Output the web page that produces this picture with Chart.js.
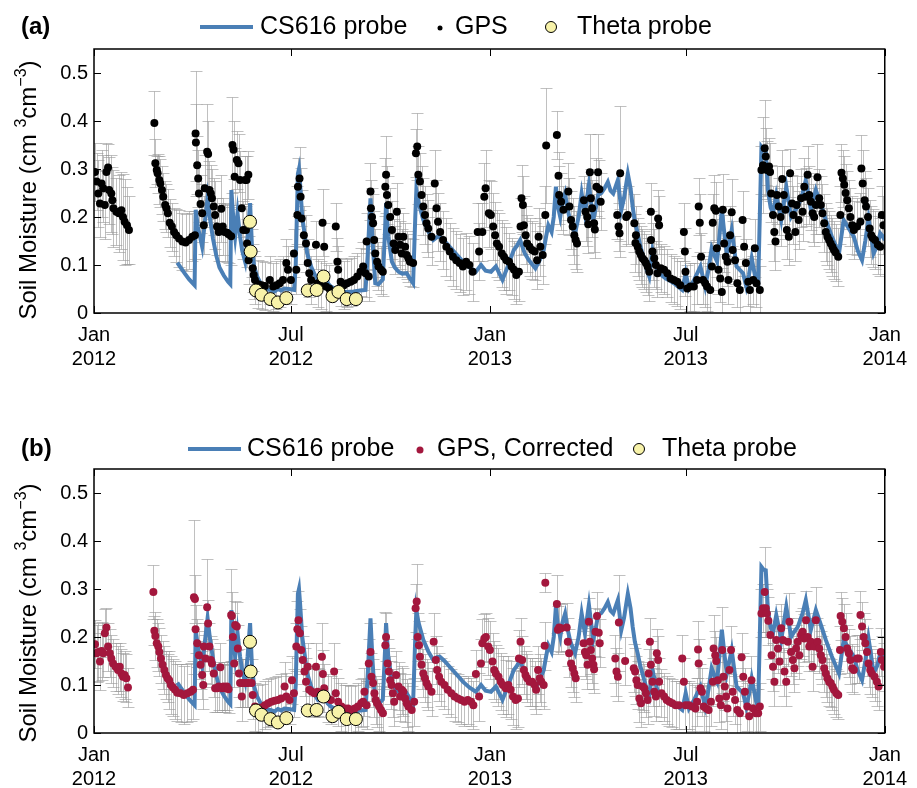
<!DOCTYPE html>
<html>
<head>
<meta charset="utf-8">
<script src="https://cdn.jsdelivr.net/npm/chart.js@4.4.1/dist/chart.umd.min.js"></script>
<style>
  html, body { margin: 0; padding: 0; background: #fff; }
  #wrap { position: relative; width: 917px; height: 788px; }
  .box { position: absolute; left: 0; width: 917px; height: 394px; }
</style>
</head>
<body>
<div id="wrap">
  <div class="box" style="top:0"><canvas id="chartA" width="917" height="394"></canvas></div>
  <div class="box" style="top:394px"><canvas id="chartB" width="917" height="394"></canvas></div>
</div>
<script>
// x axis is days since 1 Jan 2012
const xTickDays = [0, 182, 366, 547, 731];
const xTickLabels = [['Jan', '2012'], ['Jul', '2012'], ['Jan', '2013'], ['Jul', '2013'], ['Jan', '2014']];
const yTickVals = [0, 0.1, 0.2, 0.3, 0.4, 0.5];

// CS616 probe (same in both panels)
const csDays = [77,80,84,88,93,94,96,100,103,105,107,110,113,116,120,124,126,127,129,130.5,132.7,135,137,139.7,142,144.3,146,148,151,155,159,163,167,170,173,176,180,185,186.5,187.5,188.5,189.5,190.5,192.5,194.6,197,200.7,204,207,210,213,216,219,223,228,234,240,246,251,253,255.6,257.5,260,263,267,269,270,272,275.4,278,281.5,285,289,292,295,297,298,300,304.4,309,313.6,317,319.6,324,328.8,334,341,347,353,357.8,362,367,371.5,377.6,383,388,391,394,398,402,408,412,415.7,418,420,423,425,427,429,431,433,435.5,437.5,440,442,444.7,448,450.8,453.8,457.5,459.5,461.5,464,466,469,472,475,477.5,480,484.3,487.5,490,493.5,496,498,500,502.6,505,508.7,511,513.3,516.3,518.5,520.9,524,528.6,532,536,540,543.8,547,550,555,560.6,565,568,571,573.5,576,580.4,583,585,589.5,592,594,597,600,603,605.5,608,610,612.4,614,616,617,619,621,623,625.5,627.7,630.7,633,635.3,640,644.4,647,650.6,655,658,662.7,667.3,672,676.5,682,688.7,693,698,702.4,706,710,713,716,718.5,720.7,724,726.8,729,731];
const csVals = [0.105,0.095,0.082,0.07,0.058,0.215,0.18,0.138,0.2,0.239,0.2,0.155,0.12,0.095,0.078,0.065,0.06,0.256,0.19,0.159,0.208,0.16,0.13,0.107,0.16,0.229,0.14,0.097,0.075,0.058,0.05,0.048,0.045,0.05,0.047,0.051,0.05,0.048,0.1,0.2,0.29,0.3,0.27,0.2,0.166,0.125,0.097,0.08,0.069,0.072,0.076,0.062,0.055,0.05,0.045,0.044,0.045,0.047,0.048,0.12,0.239,0.15,0.062,0.06,0.07,0.17,0.229,0.16,0.107,0.095,0.086,0.082,0.083,0.072,0.062,0.2,0.256,0.23,0.194,0.17,0.152,0.158,0.159,0.15,0.138,0.125,0.107,0.095,0.086,0.1,0.088,0.086,0.097,0.069,0.1,0.131,0.14,0.152,0.125,0.11,0.093,0.11,0.131,0.16,0.183,0.169,0.2,0.263,0.22,0.2,0.23,0.249,0.22,0.194,0.18,0.166,0.2,0.249,0.208,0.267,0.23,0.194,0.22,0.246,0.25,0.26,0.273,0.255,0.249,0.277,0.215,0.24,0.29,0.26,0.221,0.19,0.166,0.14,0.11,0.09,0.076,0.131,0.11,0.089,0.08,0.072,0.068,0.062,0.055,0.048,0.083,0.051,0.07,0.097,0.055,0.09,0.135,0.12,0.107,0.215,0.16,0.124,0.173,0.13,0.097,0.09,0.083,0.055,0.08,0.114,0.09,0.062,0.06,0.25,0.346,0.34,0.339,0.256,0.22,0.208,0.246,0.22,0.194,0.263,0.2,0.21,0.221,0.249,0.277,0.215,0.256,0.225,0.194,0.16,0.124,0.194,0.175,0.159,0.13,0.11,0.15,0.197,0.16,0.124,0.14,0.166,0.16,0.152];

// Theta probe
const thetaDays = [144.2,144.8,149.7,154.9,163.1,170,177.8,197.6,205.8,212.2,220.5,226,233.6,242.1];
const thetaVals = [0.19,0.128,0.047,0.038,0.029,0.022,0.031,0.047,0.048,0.076,0.035,0.044,0.029,0.029];

// GPS, panel (a): [day, value, error]
const gpsRaw = [[0.9,0.294,0.06],[2.4,0.274,0.06],[4,0.249,0.07],[5.5,0.228,0.07],[7,0.27,0.07],[8.5,0.26,0.07],[10,0.225,0.07],[11.5,0.294,0.06],[13,0.303,0.05],[14,0.256,0.07],[16,0.249,0.08],[17,0.235,0.07],[18,0.218,0.08],[20.7,0.211,0.07],[23,0.208,0.08],[25.3,0.214,0.08],[26.8,0.2,0.09],[28.3,0.19,0.09],[30.5,0.183,0.08],[32.3,0.173,0.07],
[55.8,0.396,0.067],[56.7,0.312,0.05],[58,0.298,0.03],[58.8,0.291,0.04],[60.4,0.277,0.05],[61.3,0.27,0.05],[62.8,0.256,0.05],[64,0.242,0.05],[65.8,0.225,0.05],[67,0.218,0.05],[68.3,0.208,0.05],[70,0.188,0.05],[72,0.18,0.05],[74,0.169,0.05],[76,0.162,0.055],[78.6,0.155,0.06],[81.7,0.149,0.06],[84.7,0.147,0.06],[87.8,0.152,0.06],[90.9,0.159,0.05],[93.3,0.162,0.05],[93.9,0.374,0.13],[94.2,0.355,0.08],[95.4,0.308,0.06],[96.3,0.28,0.06],[97,0.249,0.06],[98.5,0.227,0.06],[100,0.208,0.06],[101.5,0.183,0.06],[102.4,0.26,0.07],[104.6,0.336,0.1],[105.5,0.331,0.07],[106.7,0.256,0.06],[108,0.249,0.06],[109,0.239,0.06],[110.7,0.222,0.06],[112,0.204,0.07],[113.7,0.18,0.06],[115.3,0.169,0.06],[117.7,0.217,0.07],[119,0.18,0.06],[120.7,0.169,0.06],[122.9,0.167,0.06],[124.4,0.164,0.06],[126.8,0.16,0.06],[128,0.35,0.1],[129,0.34,0.06],[130,0.284,0.06],[132,0.319,0.06],[133.6,0.312,0.06],[135,0.277,0.06],[136.6,0.218,0.06],[138,0.173,0.06],[139.7,0.277,0.05],[141,0.277,0.05],[142.7,0.288,0.05],[140.5,0.173,0.05],[141.5,0.145,0.05],[142.9,0.11,0.05],[145.7,0.124,0.05],[146.7,0.093,0.05],[147.6,0.079,0.05],[148.8,0.069,0.05],[151.9,0.06,0.05],[155,0.058,0.05],[158,0.056,0.05],[162.5,0.069,0.05],[165.6,0.055,0.05],[168.6,0.058,0.05],[171.7,0.062,0.05],[174.7,0.069,0.05],[177.8,0.104,0.05],[179.3,0.09,0.05],[182,0.069,0.05],[184.8,0.124,0.05],[187,0.09,0.05],[188,0.204,0.06],[188.5,0.263,0.06],[190,0.28,0.065],[191,0.242,0.06],[192,0.197,0.06],[194,0.162,0.06],[196,0.145,0.06],[197.6,0.104,0.05],[199,0.083,0.05],[200.7,0.069,0.05],[205.2,0.142,0.05],[206.7,0.062,0.05],[209.8,0.058,0.05],[211.3,0.188,0.07],[212.8,0.138,0.05],[214.4,0.055,0.05],[217.4,0.051,0.05],[223.5,0.18,0.05],[225,0.107,0.05],[225.7,0.09,0.05],[228,0.065,0.05],[231,0.058,0.05],[234,0.062,0.05],[237.3,0.065,0.05],[240.3,0.069,0.05],[243.4,0.076,0.05],[246.4,0.086,0.05],[248.8,0.097,0.05],[251,0.083,0.05],[252,0.149,0.06],[254,0.076,0.05],[255.6,0.253,0.06],[256,0.218,0.06],[257,0.2,0.06],[258,0.187,0.06],[259,0.152,0.06],[260,0.124,0.05],[261.7,0.107,0.05],[263,0.097,0.05],[265.3,0.09,0.05],[267,0.086,0.05],[269.3,0.263,0.06],[270,0.288,0.08],[270.8,0.246,0.06],[272,0.225,0.06],[273.8,0.2,0.06],[275.4,0.173,0.06],[277,0.145,0.05],[278.5,0.131,0.05],[280,0.211,0.06],[281.5,0.159,0.06],[283,0.142,0.05],[284.5,0.124,0.05],[286,0.159,0.05],[287.6,0.138,0.05],[289,0.121,0.05],[290.6,0.114,0.05],[292,0.107,0.05],[295,0.104,0.05],[297.6,0.333,0.05],[298.8,0.347,0.07],[299.8,0.288,0.06],[301.3,0.274,0.06],[302.8,0.246,0.06],[304.4,0.222,0.06],[306,0.204,0.06],[307.4,0.187,0.06],[309,0.176,0.06],[312,0.159,0.06],[315,0.27,0.07],[316.6,0.218,0.06],[318,0.19,0.06],[320,0.169,0.06],[322.7,0.152,0.06],[325.7,0.138,0.06],[328.8,0.128,0.06],[331.8,0.117,0.06],[334.9,0.11,0.06],[338,0.104,0.06],[341,0.097,0.06],[344,0.107,0.06],[347,0.1,0.06],[350,0.086,0.06],[354.7,0.169,0.06],[356,0.128,0.06],[359,0.169,0.06],[360.8,0.242,0.07],[362,0.26,0.08],[365,0.208,0.07],
[366.9,0.204,0.07],[369,0.18,0.07],[370.8,0.162,0.07],[372.4,0.145,0.07],[374.5,0.138,0.07],[377,0.124,0.07],[379,0.117,0.07],[381.2,0.11,0.07],[383.7,0.107,0.06],[386,0.097,0.06],[388.2,0.09,0.06],[390.4,0.079,0.06],[392.8,0.086,0.06],[394.3,0.18,0.06],[395.2,0.239,0.07],[396.5,0.225,0.06],[397.4,0.183,0.06],[399,0.162,0.06],[400.4,0.145,0.06],[402.6,0.138,0.06],[405,0.131,0.06],[407.4,0.128,0.06],[409.6,0.11,0.06],[411,0.159,0.06],[412.6,0.138,0.06],[414.8,0.121,0.06],[417.2,0.204,0.06],[418,0.349,0.12],[427.9,0.371,0.05],[429.4,0.286,0.05],[430,0.246,0.06],[431.8,0.232,0.06],[434,0.215,0.05],[438.5,0.253,0.06],[439.5,0.222,0.06],[441,0.194,0.06],[442.5,0.18,0.06],[444,0.162,0.06],[445.3,0.152,0.06],[446.5,0.145,0.06],[452.9,0.235,0.05],[454.4,0.211,0.06],[456,0.2,0.06],[456.9,0.185,0.06],[458.4,0.293,0.08],[459.3,0.239,0.06],[460.5,0.218,0.06],[462.3,0.187,0.06],[463,0.174,0.06],[464.5,0.263,0.06],[466,0.293,0.08],[467.2,0.258,0.06],[468.4,0.232,0.06],[483.7,0.204,0.05],[484.9,0.18,0.05],[485.8,0.166,0.05],[486.4,0.291,0.14],[492,0.2,0.06],[493.4,0.204,0.06],[499.5,0.187,0.06],[500.5,0.146,0.06],[501,0.162,0.06],[502.6,0.138,0.06],[504,0.128,0.06],[505.6,0.121,0.06],[507,0.114,0.06],[508.7,0.11,0.06],[510.2,0.104,0.06],[511.8,0.097,0.06],[513.3,0.086,0.06],[514.8,0.211,0.06],[514.9,0.152,0.06],[516.3,0.128,0.06],[517.9,0.114,0.06],[519.4,0.1,0.05],[520.9,0.083,0.05],[521.5,0.197,0.06],[522.4,0.183,0.06],[524,0.093,0.05],[527,0.09,0.05],[530,0.083,0.05],[533,0.072,0.05],[536,0.069,0.05],[539.2,0.065,0.05],[542,0.058,0.05],[545.3,0.169,0.06],[546.2,0.128,0.05],[546.8,0.086,0.05],[548.4,0.051,0.05],[551.4,0.055,0.05],[554.5,0.055,0.05],[557.5,0.069,0.05],[559,0.222,0.06],[560,0.188,0.06],[561.2,0.117,0.05],[563,0.069,0.05],[565,0.062,0.05],[566.7,0.055,0.05],[569.7,0.048,0.05],[571.2,0.097,0.05],[572,0.188,0.06],[573.4,0.218,0.07],[574.9,0.213,0.06],[575.8,0.135,0.06],[577.3,0.09,0.05],[578.9,0.072,0.05],[580.4,0.044,0.05],[581.3,0.215,0.075],[582.5,0.145,0.06],[584,0.117,0.05],[585.6,0.107,0.05],[586.5,0.069,0.05],[588,0.162,0.06],[589.5,0.21,0.07],[590.4,0.131,0.06],[592.6,0.11,0.05],[594.7,0.062,0.05],[597,0.048,0.05],[599.6,0.194,0.06],[601,0.138,0.06],[602.6,0.104,0.05],[604.8,0.065,0.05],[606.3,0.048,0.05],[609.4,0.069,0.05],[610.9,0.135,0.06],[612.4,0.062,0.05],[615.5,0.048,0.05],[617,0.298,0.05],[618.5,0.308,0.1],[620,0.343,0.1],[621,0.326,0.06],[622,0.298,0.06],[624,0.305,0.06],[625,0.294,0.06],[626,0.249,0.06],[627.7,0.204,0.06],[628.9,0.169,0.06],[630,0.149,0.06],[631.3,0.246,0.06],[633,0.222,0.06],[634.7,0.2,0.06],[636.2,0.279,0.06],[637.7,0.246,0.06],[639.2,0.215,0.06],[640.5,0.173,0.06],[642.3,0.159,0.06],[643.5,0.291,0.05],[645.3,0.228,0.06],[646.6,0.204,0.06],[648.4,0.169,0.06],[649.6,0.225,0.06],[651.4,0.194,0.06],[653.6,0.239,0.06],[655,0.211,0.06],[656.6,0.263,0.06],[658,0.242,0.06],[659.7,0.288,0.06],[661.2,0.246,0.06],[662.7,0.232,0.06],[664.3,0.208,0.06],[665.8,0.2,0.06],[667.3,0.225,0.06],[668.8,0.283,0.07],[670.4,0.239,0.06],[671.9,0.225,0.06],[673.4,0.208,0.06],[675,0.187,0.06],[676.5,0.169,0.06],[678,0.159,0.06],[679.5,0.152,0.06],[681,0.145,0.06],[682.6,0.138,0.06],[684,0.131,0.06],[685.6,0.126,0.06],[688,0.117,0.06],[690,0.204,0.06],[691,0.292,0.06],[692.3,0.28,0.06],[693.5,0.267,0.06],[694.8,0.25,0.06],[696.3,0.235,0.06],[697.8,0.218,0.06],[699.3,0.2,0.06],[700.9,0.183,0.06],[702.4,0.173,0.06],[705.4,0.18,0.06],[708.5,0.19,0.06],[709.4,0.301,0.07],[710.6,0.27,0.07],[712.4,0.235,0.06],[713.7,0.222,0.06],[715.5,0.2,0.06],[717,0.176,0.06],[718.5,0.162,0.06],[719.8,0.156,0.06],[722,0.152,0.06],[724.6,0.142,0.06],[726.8,0.138,0.06],[728.3,0.204,0.06],[729.8,0.183,0.06]];

// GPS corrected, panel (b): [day, value, error]
const gpsCorr = [[0.9,0.185,0.05],[2.4,0.166,0.06],[4,0.169,0.06],[5.5,0.149,0.06],[7,0.171,0.06],[8.5,0.166,0.05],[10,0.208,0.05],[11.5,0.22,0.04],[13,0.18,0.05],[14.6,0.166,0.05],[16,0.155,0.05],[17.6,0.145,0.05],[20,0.138,0.05],[22.2,0.131,0.05],[23.8,0.138,0.05],[25.3,0.124,0.05],[26.8,0.117,0.05],[28.3,0.121,0.05],[29.9,0.114,0.05],[31.4,0.095,0.04],
[54.9,0.294,0.056],[55.8,0.213,0.03],[56.7,0.202,0.05],[58,0.187,0.05],[59.4,0.18,0.05],[60.4,0.169,0.05],[61.9,0.155,0.05],[63.4,0.142,0.05],[65,0.131,0.05],[66.5,0.121,0.05],[68,0.114,0.05],[69.5,0.11,0.06],[71,0.1,0.06],[73,0.095,0.06],[75,0.09,0.06],[77,0.084,0.06],[80,0.083,0.06],[83,0.079,0.06],[86.3,0.083,0.06],[89.3,0.086,0.06],[91.5,0.09,0.06],[92.4,0.283,0.16],[93.3,0.279,0.05],[93.9,0.216,0.05],[95.4,0.187,0.05],[97,0.162,0.05],[98.5,0.142,0.05],[100,0.121,0.05],[101,0.1,0.05],[101.5,0.18,0.05],[103,0.155,0.05],[104.6,0.262,0.1],[105.5,0.228,0.05],[106.7,0.18,0.05],[108,0.152,0.05],[109,0.145,0.05],[110.7,0.124,0.05],[112,0.093,0.05],[113.7,0.093,0.05],[115.3,0.097,0.05],[116.8,0.137,0.05],[118.3,0.093,0.05],[119.8,0.097,0.05],[121.3,0.093,0.05],[122.9,0.097,0.05],[124.4,0.091,0.05],[126.8,0.246,0.095],[127.4,0.244,0.05],[128.4,0.2,0.05],[129.6,0.145,0.05],[130.5,0.225,0.05],[132,0.222,0.05],[133,0.176,0.05],[134,0.124,0.05],[135,0.104,0.05],[136.6,0.076,0.05],[137.2,0.104,0.05],[138,0.104,0.05],[139.7,0.104,0.05],[141.2,0.104,0.05],[142.7,0.104,0.05],[145.7,0.104,0.05],[146.7,0.079,0.05],[148.8,0.055,0.05],[151.9,0.051,0.05],[155,0.053,0.05],[158,0.058,0.05],[161,0.062,0.05],[164,0.065,0.05],[167,0.067,0.05],[170,0.069,0.05],[173,0.072,0.05],[176.2,0.097,0.05],[177.8,0.076,0.05],[180.8,0.069,0.05],[183,0.11,0.05],[184.8,0.083,0.05],[187,0.18,0.05],[188,0.216,0.06],[189,0.235,0.06],[190.3,0.208,0.05],[191.5,0.173,0.05],[193,0.152,0.05],[194.6,0.128,0.05],[196,0.107,0.05],[197.6,0.138,0.05],[199,0.09,0.05],[201.3,0.086,0.05],[203.7,0.083,0.05],[205.2,0.138,0.05],[206.7,0.086,0.05],[208.3,0.083,0.05],[210.7,0.159,0.07],[211.6,0.123,0.05],[212.8,0.093,0.05],[215.9,0.072,0.05],[219,0.069,0.05],[222,0.128,0.06],[223.5,0.083,0.05],[225.7,0.065,0.05],[228.7,0.055,0.05],[231.8,0.051,0.05],[234.8,0.051,0.05],[237.9,0.048,0.05],[241,0.051,0.05],[244,0.055,0.05],[247,0.062,0.05],[248.8,0.065,0.05],[250,0.086,0.05],[252,0.058,0.05],[254,0.145,0.05],[255.6,0.169,0.06],[256.5,0.117,0.05],[258,0.104,0.05],[259.2,0.083,0.05],[260.4,0.069,0.05],[261.7,0.062,0.05],[263.5,0.055,0.05],[265.3,0.048,0.05],[267.1,0.041,0.05],[269.3,0.183,0.07],[270,0.2,0.05],[271.4,0.145,0.05],[272.6,0.128,0.05],[273.8,0.11,0.05],[275,0.1,0.05],[276.3,0.083,0.05],[277.5,0.065,0.05],[279.3,0.121,0.05],[281.5,0.097,0.05],[283,0.076,0.05],[284.5,0.09,0.05],[286,0.086,0.05],[287.6,0.072,0.05],[289,0.062,0.05],[290.6,0.055,0.05],[293.7,0.048,0.05],[296,0.065,0.05],[297.3,0.26,0.05],[298.3,0.274,0.078],[299.2,0.2,0.05],[300.4,0.183,0.05],[301.3,0.159,0.05],[302.8,0.142,0.05],[304.4,0.124,0.05],[305.9,0.114,0.05],[307.4,0.104,0.05],[309,0.097,0.05],[312,0.086,0.05],[314,0.19,0.06],[316,0.152,0.05],[317.2,0.131,0.05],[319,0.117,0.05],[321,0.107,0.05],[324,0.1,0.05],[327,0.09,0.05],[330.3,0.083,0.05],[333.3,0.076,0.05],[336.4,0.072,0.05],[339.4,0.069,0.05],[342.5,0.065,0.05],[345.5,0.069,0.05],[348.6,0.065,0.05],[350.7,0.058,0.05],[353,0.123,0.05],[356,0.076,0.05],[357.7,0.145,0.05],[359,0.187,0.05],[360.8,0.197,0.05],[362.3,0.2,0.05],[364.4,0.18,0.06],
[366,0.173,0.06],[368.4,0.149,0.06],[370,0.131,0.06],[371.5,0.124,0.06],[373.9,0.117,0.06],[376,0.107,0.06],[378,0.1,0.06],[380.6,0.093,0.06],[383,0.1,0.06],[385.2,0.09,0.06],[387.3,0.076,0.06],[389.8,0.069,0.06],[391.9,0.072,0.06],[392.8,0.155,0.06],[394.3,0.19,0.05],[395.8,0.152,0.05],[397.4,0.131,0.05],[398.9,0.121,0.05],[400.4,0.114,0.05],[402.6,0.107,0.05],[405,0.107,0.05],[407.4,0.1,0.05],[408.7,0.09,0.05],[410.5,0.131,0.05],[412,0.114,0.05],[413.5,0.107,0.05],[415.7,0.1,0.05],[416.6,0.182,0.05],[417.2,0.313,0.02],[427.9,0.269,0.06],[428.8,0.215,0.05],[430,0.22,0.05],[431.8,0.218,0.05],[437,0.22,0.05],[438,0.19,0.05],[439.2,0.166,0.05],[441,0.145,0.05],[442.5,0.135,0.05],[444,0.124,0.05],[445.3,0.114,0.05],[452.6,0.187,0.05],[453.8,0.169,0.05],[455,0.162,0.05],[456.2,0.142,0.05],[457.5,0.232,0.05],[458.4,0.19,0.05],[459.3,0.173,0.05],[460.5,0.155,0.05],[461.7,0.142,0.05],[462.3,0.133,0.05],[463.6,0.211,0.05],[465,0.244,0.05],[466.6,0.209,0.05],[467.5,0.187,0.05],[481.9,0.155,0.05],[483,0.128,0.05],[484.3,0.117,0.05],[485.2,0.23,0.1],[491,0.15,0.05],[499,0.135,0.05],[500.2,0.128,0.05],[501.4,0.11,0.05],[502.6,0.1,0.05],[504.1,0.072,0.05],[505.6,0.062,0.05],[507.2,0.097,0.05],[508.7,0.093,0.05],[510.2,0.083,0.05],[511.8,0.069,0.05],[512.7,0.124,0.05],[513.9,0.19,0.05],[514.8,0.142,0.05],[516.3,0.107,0.05],[517.9,0.086,0.05],[519.4,0.076,0.05],[520.3,0.166,0.05],[521.5,0.152,0.05],[522.4,0.107,0.05],[524.6,0.083,0.05],[527,0.076,0.05],[529.4,0.069,0.05],[531.9,0.065,0.05],[534.6,0.062,0.05],[537.7,0.058,0.05],[540.7,0.058,0.05],[543.8,0.155,0.05],[545.3,0.107,0.05],[546.8,0.058,0.05],[549.9,0.058,0.05],[552.9,0.055,0.05],[556,0.051,0.05],[557.5,0.065,0.05],[558.4,0.174,0.06],[559,0.145,0.05],[560.6,0.093,0.05],[562,0.086,0.05],[563.6,0.055,0.05],[566,0.051,0.05],[568.2,0.048,0.05],[570.3,0.065,0.05],[572.1,0.107,0.05],[572.8,0.176,0.07],[574.3,0.162,0.05],[575.2,0.15,0.05],[576.7,0.11,0.05],[578,0.072,0.05],[579.5,0.058,0.05],[580.7,0.173,0.09],[581.9,0.117,0.05],[583.1,0.097,0.05],[584.3,0.076,0.05],[585.6,0.051,0.05],[587.4,0.131,0.05],[588.9,0.173,0.05],[590.4,0.086,0.05],[592.6,0.069,0.05],[594.7,0.048,0.05],[597.1,0.041,0.05],[598.7,0.158,0.05],[600.2,0.117,0.05],[601.7,0.086,0.05],[603.9,0.055,0.05],[605.7,0.035,0.05],[607.8,0.11,0.05],[609.4,0.051,0.05],[611.8,0.041,0.05],[614,0.041,0.05],[615.5,0.055,0.05],[617,0.249,0.05],[618.5,0.26,0.05],[620,0.294,0.094],[621,0.26,0.05],[622,0.249,0.05],[623.4,0.234,0.05],[625.2,0.204,0.05],[626.4,0.162,0.05],[627.7,0.138,0.05],[629,0.107,0.05],[630.7,0.194,0.06],[632.2,0.176,0.05],[633.7,0.149,0.05],[635.3,0.218,0.05],[636.8,0.194,0.05],[638.3,0.128,0.05],[639.9,0.107,0.05],[641.4,0.19,0.05],[642.9,0.232,0.06],[644.4,0.169,0.05],[646,0.152,0.05],[647.5,0.135,0.05],[649,0.176,0.05],[650.5,0.19,0.05],[652,0.162,0.05],[653.6,0.204,0.05],[655.1,0.211,0.05],[656.6,0.197,0.05],[658.2,0.235,0.06],[659.7,0.2,0.05],[661.2,0.18,0.05],[662.7,0.19,0.05],[664.3,0.138,0.05],[665.8,0.18,0.05],[667.3,0.235,0.07],[668.8,0.19,0.05],[670.4,0.176,0.05],[671.9,0.162,0.05],[673.4,0.152,0.05],[675,0.135,0.05],[676.5,0.124,0.05],[678,0.114,0.05],[679.5,0.107,0.05],[681,0.104,0.05],[682.6,0.097,0.05],[684,0.09,0.05],[686.2,0.083,0.05],[688,0.079,0.05],[689.6,0.173,0.05],[690.2,0.244,0.05],[691.7,0.232,0.05],[693.2,0.218,0.05],[694.8,0.2,0.05],[696.3,0.176,0.05],[697.8,0.166,0.05],[699.3,0.152,0.05],[700.9,0.135,0.05],[702.4,0.131,0.05],[705.4,0.155,0.05],[707,0.155,0.05],[708.5,0.246,0.05],[710,0.222,0.05],[711.5,0.2,0.05],[713,0.187,0.05],[714.6,0.169,0.05],[716,0.145,0.05],[717.6,0.131,0.05],[719,0.124,0.05],[721.6,0.117,0.05],[723.7,0.107,0.05],[725.3,0.097,0.05],[727.4,0.169,0.05],[728.3,0.152,0.05],[730.4,0.138,0.05]];

const FONT = '"Liberation Sans", Arial, Helvetica, sans-serif';
const BLUE = '#4a7fb6';
const YELLOW = '#f7f2a9';
const RED = '#a3173d';

Chart.defaults.font.family = FONT;

const csPoints = csDays.map((d, i) => ({ x: d, y: csVals[i] }));
const thetaPoints = thetaDays.map((d, i) => ({ x: d, y: thetaVals[i] }));

// gray error bars, under the datasets
const errorBars = {
    id: 'errorBars',
    beforeDatasetsDraw(chart, args, opts) {
        const { ctx, chartArea: a, scales: { x, y } } = chart;
        ctx.save();
        ctx.beginPath();
        ctx.rect(a.left, a.top, a.width, a.height);
        ctx.clip();
        ctx.strokeStyle = 'rgba(150,150,150,0.6)';
        ctx.lineWidth = 1;
        opts.points.forEach(p => {
            const px = Math.round(x.getPixelForValue(p[0])) + 0.5;
            const yt = Math.round(y.getPixelForValue(p[1] + p[2])) + 0.5;
            const yb = Math.round(y.getPixelForValue(p[1] - p[2])) + 0.5;
            ctx.beginPath();
            ctx.moveTo(px, yt); ctx.lineTo(px, yb);
            ctx.moveTo(px - 6, yt); ctx.lineTo(px + 6, yt);
            ctx.moveTo(px - 6, yb); ctx.lineTo(px + 6, yb);
            ctx.stroke();
        });
        ctx.restore();
    }
};

// box, inward ticks, panel letter, legend, y title
const deco = {
    id: 'deco',
    afterDraw(chart, args, o) {
        const { ctx, chartArea: a, scales: { x, y } } = chart;
        ctx.save();
        ctx.strokeStyle = '#000';
        ctx.lineWidth = 1;
        ctx.beginPath();
        xTickDays.forEach(v => {
            const px = Math.round(x.getPixelForValue(v)) + 0.5;
            ctx.moveTo(px, a.bottom); ctx.lineTo(px, a.bottom - 7);
            ctx.moveTo(px, a.top); ctx.lineTo(px, a.top + 7);
        });
        yTickVals.forEach(v => {
            const py = Math.round(y.getPixelForValue(v)) + 0.5;
            ctx.moveTo(a.left, py); ctx.lineTo(a.left + 7, py);
            ctx.moveTo(a.right, py); ctx.lineTo(a.right - 7, py);
        });
        ctx.stroke();
        ctx.lineWidth = 1.5;
        ctx.strokeRect(a.left, a.top, a.width, a.height);

        ctx.fillStyle = '#000';
        ctx.textBaseline = 'middle';
        ctx.textAlign = 'left';
        ctx.font = 'bold 24px ' + FONT;
        ctx.fillText(o.panel, 21, o.ly);

        // legend
        const L = o.lx;
        ctx.font = '25px ' + FONT;
        ctx.strokeStyle = BLUE;
        ctx.lineWidth = 4;
        ctx.beginPath();
        ctx.moveTo(L[0], o.ly); ctx.lineTo(L[1], o.ly);
        ctx.stroke();
        ctx.fillText('CS616 probe', L[2], o.ly);
        ctx.fillStyle = o.dotColor;
        ctx.beginPath();
        ctx.arc(L[3], o.ly + 1, o.dotR, 0, Math.PI * 2);
        ctx.fill();
        ctx.fillStyle = '#000';
        ctx.fillText(o.gpsLabel, L[4], o.ly);
        ctx.fillStyle = YELLOW;
        ctx.strokeStyle = '#000';
        ctx.lineWidth = 1;
        ctx.beginPath();
        ctx.arc(L[5], o.ly, 5.5, 0, Math.PI * 2);
        ctx.fill();
        ctx.stroke();
        ctx.fillStyle = '#000';
        ctx.fillText('Theta probe', L[6], o.ly);

        // y title with superscripts
        const parts = [['Soil Moisture (cm ', false], ['3', true], ['cm', false], ['\u22123', true], [')', false]];
        const big = '24px ' + FONT, small = '16px ' + FONT;
        let total = 0;
        parts.forEach(p => { ctx.font = p[1] ? small : big; total += ctx.measureText(p[0]).width; });
        ctx.translate(36, (a.top + a.bottom) / 2 + o.tshift);
        ctx.rotate(-Math.PI / 2);
        ctx.textAlign = 'left';
        ctx.textBaseline = 'alphabetic';
        let cx = -total / 2;
        parts.forEach(p => {
            ctx.font = p[1] ? small : big;
            ctx.fillText(p[0], cx, p[1] ? -10 : 0);
            cx += ctx.measureText(p[0]).width;
        });
        ctx.restore();
    }
};

function makeChart(id, gps, o) {
    return new Chart(document.getElementById(id), {
        type: 'scatter',
        data: {
            datasets: [
                { type: 'line', data: csPoints, borderColor: BLUE, borderWidth: 4, pointRadius: 0, tension: 0, fill: false, order: 3 },
                { data: gps.map(p => ({ x: p[0], y: p[1] })), backgroundColor: o.dotColor, borderWidth: 0, pointRadius: 4, order: 2 },
                { data: thetaPoints, backgroundColor: YELLOW, borderColor: '#000', borderWidth: 1, pointRadius: 6.5, order: 1 }
            ]
        },
        options: {
            responsive: false,
            animation: false,
            events: [],
            layout: { padding: { top: o.top, right: 24, left: 0, bottom: 0 } },
            plugins: {
                legend: { display: false },
                tooltip: { enabled: false },
                errorBars: { points: gps },
                deco: o
            },
            scales: {
                x: {
                    type: 'linear', min: 0, max: 731,
                    afterBuildTicks: s => { s.ticks = xTickDays.map(v => ({ value: v })); },
                    afterFit: s => { s.height = o.xh; },
                    grid: { display: false, drawTicks: false },
                    border: { display: false },
                    ticks: {
                        padding: 10, maxRotation: 0, autoSkip: false, color: '#000',
                        font: { size: 20 },
                        callback: (v, i) => xTickLabels[i]
                    }
                },
                y: {
                    min: 0, max: 0.55,
                    afterBuildTicks: s => { s.ticks = yTickVals.map(v => ({ value: v })); },
                    afterFit: s => { s.width = 94; },
                    grid: { display: false, drawTicks: false },
                    border: { display: false },
                    ticks: {
                        padding: 6, color: '#000',
                        font: { size: 20 },
                        callback: v => v === 0 ? '0' : v.toFixed(1)
                    }
                }
            }
        },
        plugins: [errorBars, deco]
    });
}

makeChart('chartA', gpsRaw, {
    panel: '(a)', top: 49, xh: 81, ly: 27, tshift: 9,
    lx: [200, 253, 260, 440, 455, 551, 577],
    gpsLabel: 'GPS', dotColor: '#000', dotR: 2.5
});
makeChart('chartB', gpsCorr, {
    panel: '(b)', top: 75, xh: 55, ly: 55, tshift: 12,
    lx: [188, 241, 247, 420, 437, 639, 662],
    gpsLabel: 'GPS, Corrected', dotColor: RED, dotR: 3.5
});
</script>
</body>
</html>
